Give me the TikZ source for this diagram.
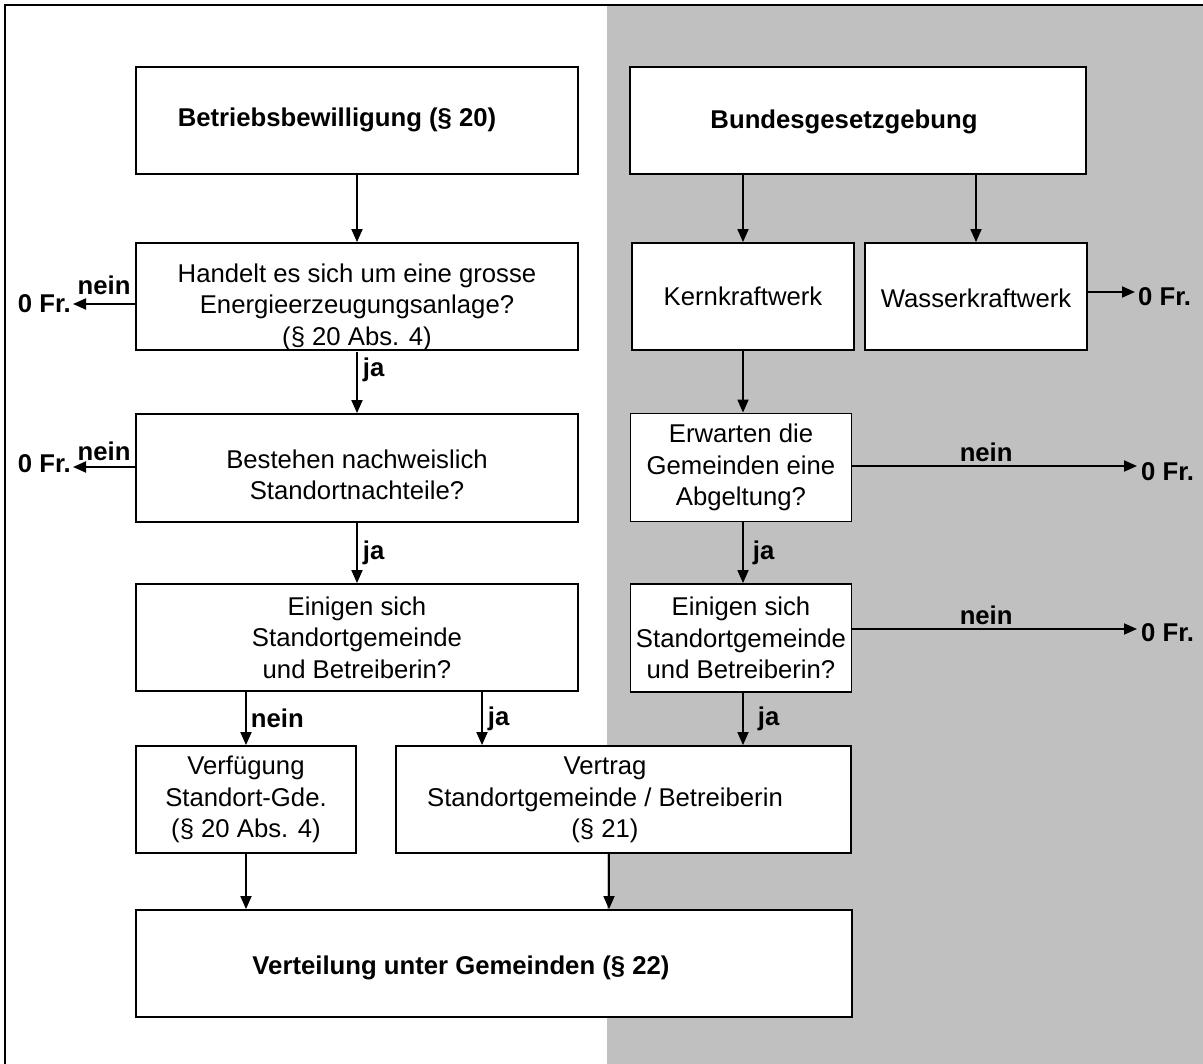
\documentclass[tikz,border=0pt]{standalone}
\usepackage{fontspec}
\setmainfont{Liberation Sans}
\usetikzlibrary{arrows.meta}
\definecolor{bg}{RGB}{192,192,192}
\begin{document}
\begin{tikzpicture}[x=1pt,y=-1pt,
  box/.style={draw, fill=white, line width=1.8pt, inner sep=0pt, align=center,
              font=\fontsize{25.7}{31.5}\selectfont},
  title/.style={inner sep=0pt, font=\fontsize{25.7}{31.5}\selectfont\bfseries},
  txt/.style={inner sep=0pt, align=center, font=\fontsize{25.7}{31.5}\selectfont},
  lbl/.style={inner sep=0pt, font=\fontsize{25.7}{31.5}\selectfont\bfseries},
  arr/.style={line width=1.8pt, -{Triangle[length=13pt,width=11pt]}}
]
\useasboundingbox (0,0) rectangle (1203,1064);
\fill[bg] (607,5) rectangle (1203,1064);
\draw[line width=2.4pt] (5,1064) -- (5,5) -- (1203,5);

% left column
\node[box, minimum width=442pt, minimum height=107pt] (bew) at (357,120.5) {};
\node[title] (bewt) at (337,120) {Betriebsbewilligung (§ 20)};
\node[box, minimum width=442pt, minimum height=107pt] (hand) at (357,296.5) {};
\node[txt] (handt) at (357,307)
  {Handelt es sich um eine grosse\\Energieerzeugungsanlage?\\(§ 20 Abs. 4)};
\node[box, minimum width=442pt, minimum height=108pt] (best) at (357,468) {};
\node[txt] (bestt) at (357,475) {Bestehen nachweislich\\Standortnachteile?};
\node[box, minimum width=442pt, minimum height=107pt] (ein1) at (357,637.5)
  {Einigen sich\\Standortgemeinde\\und Betreiberin?};
\node[box, minimum width=220pt, minimum height=107pt] (verf) at (246,799.5)
  {Verfügung\\Standort-Gde.\\(§ 20 Abs. 4)};
\node[box, minimum width=455pt, minimum height=107pt] (vert) at (623.5,799.5) {};
\node[txt] (vertt) at (605,800) {Vertrag\\Standortgemeinde / Betreiberin\\(§ 21)};
\node[box, minimum width=716pt, minimum height=107pt] (vtl) at (494,963.5) {};
\node[title] (vtlt) at (461,968) {Verteilung unter Gemeinden (§ 22)};

% right column
\node[box, minimum width=456pt, minimum height=107pt] (bund) at (858,120.5) {};
\node[title] (bundt) at (844,122) {Bundesgesetzgebung};
\node[box, minimum width=222pt, minimum height=107pt] (kern) at (743,296.5) {Kernkraftwerk};
\node[box, minimum width=222pt, minimum height=107pt] (wass) at (976,296.5) {};
\node[txt] (wasst) at (976,298) {Wasserkraftwerk};
\node[box, minimum width=221pt, minimum height=108pt] (erw) at (741,467.5)
  {Erwarten die\\Gemeinden eine\\Abgeltung?};
\node[box, minimum width=221pt, minimum height=108pt] (ein2) at (741,638)
  {Einigen sich\\Standortgemeinde\\und Betreiberin?};

% 0 Fr. end points
\node[lbl, anchor=east] (z2) at (71,304) {0 Fr.};
\node[lbl, anchor=east] (z3) at (71,464) {0 Fr.};
\node[lbl, anchor=west] (z1) at (1138,297) {0 Fr.};
\node[lbl, anchor=west] (z4) at (1141,472) {0 Fr.};
\node[lbl, anchor=west] (z5) at (1141,633) {0 Fr.};
\coordinate (c1) at (1135,292);
\coordinate (c4) at (1137,466);
\coordinate (c5) at (1137,629);

% connectors left
\draw[arr] (bew.south) -- (hand.north);
\draw[arr] (hand.west |- z2) -- ([xshift=2pt]z2.east)
  node[lbl, pos=0.5, above=8pt] {nein};
\draw[arr] ([yshift=-1pt]hand.south) -- (best.north)
  node[lbl, pos=0.3, right=5pt] {ja};
\draw[arr] ([yshift=-3pt]best.west |- z3) -- ([xshift=2pt,yshift=-3pt]z3.east)
  node[lbl, pos=0.5, above=5pt] {nein};
\draw[arr] (best.south) -- (ein1.north) node[lbl, midway, right=5pt] {ja};
\draw[arr] (ein1.south -| verf.north) -- (verf.north) node[lbl, midway, right=4pt] {nein};
\draw[arr] ([xshift=125pt]ein1.south) -- ([xshift=125pt]ein1.south |- vert.north)
  node[lbl, midway, right=5pt] {ja};
\draw[arr] (verf.south) -- (verf.south |- vtl.north);
\draw[arr] ([xshift=-14.5pt]vert.south) -- ([xshift=-14.5pt]vert.south |- vtl.north);

% connectors right
\draw[arr] (kern.north |- bund.south) -- (kern.north);
\draw[arr] (wass.north |- bund.south) -- (wass.north);
\draw[arr] (wass.east |- c1) -- (c1);
\draw[arr] (kern.south) -- (kern.south |- erw.north);
\draw[arr] (erw.east |- c4) -- (c4)
  node[lbl, pos=0.47, above=3pt] {nein};
\draw[arr] (kern.south |- erw.south) -- (kern.south |- ein2.north)
  node[lbl, midway, right=9pt] {ja};
\draw[arr] (ein2.east |- c5) -- (c5)
  node[lbl, pos=0.47, above=3pt] {nein};
\draw[arr] (kern.south |- ein2.south) -- (kern.south |- vert.north)
  node[lbl, midway, right=14pt] {ja};
\end{tikzpicture}
\end{document}
